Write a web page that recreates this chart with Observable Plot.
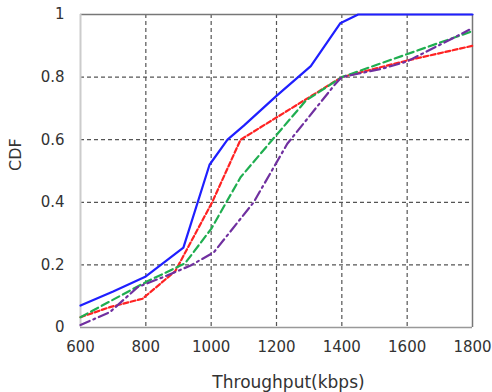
<!DOCTYPE html>
<html>
<head>
<meta charset="utf-8">
<script src="https://cdn.jsdelivr.net/npm/d3@7"></script>
<script src="https://cdn.jsdelivr.net/npm/@observablehq/plot@0.6"></script>
<style>
  html, body { margin: 0; padding: 0; background: #fff; }
  svg { font-family: "DejaVu Sans", sans-serif; }
</style>
</head>
<body>
<div id="chart"></div>
<script>
// Series data (throughput kbps, CDF)
const blueX   = [600, 700, 800, 915, 995, 1050, 1100, 1200, 1305, 1395, 1450, 1800];
const blueY   = [0.07, 0.115, 0.163, 0.255, 0.52, 0.60, 0.645, 0.74, 0.835, 0.972, 1.0, 1.0];
const redX    = [600, 690, 790, 890, 1003, 1090, 1400, 1600, 1800];
const redY    = [0.033, 0.065, 0.092, 0.18, 0.40, 0.60, 0.80, 0.853, 0.90];
const greenX  = [600, 800, 920, 1000, 1090, 1190, 1290, 1400, 1795];
const greenY  = [0.033, 0.145, 0.205, 0.315, 0.48, 0.603, 0.725, 0.80, 0.945];
const purpleX = [600, 690, 775, 865, 937, 1008, 1130, 1233, 1380, 1400, 1520, 1600, 1790];
const purpleY = [0.008, 0.049, 0.129, 0.166, 0.198, 0.24, 0.40, 0.587, 0.778, 0.80, 0.826, 0.85, 0.951];

const xTicks = [600, 800, 1000, 1200, 1400, 1600, 1800];
const yTicks = [0, 0.2, 0.4, 0.6, 0.8, 1];
const xGrid = [800, 1000, 1200, 1400, 1600];
const yGrid = [0.2, 0.4, 0.6, 0.8];

const toRows = (xs, ys) => xs.map((x, i) => ({x, y: ys[i]}));

const series = [
  {rows: toRows(blueX, blueY), stroke: "#1f1fff", dash: null},
  {rows: toRows(redX, redY), stroke: "#ff2222", dash: "5,2.5"},
  {rows: toRows(greenX, greenY), stroke: "#1fae50", dash: "8,4"},
  {rows: toRows(purpleX, purpleY), stroke: "#7030a0", dash: "10,4,2,4"}
];

const chart = Plot.plot({
  width: 492,
  height: 392,
  marginLeft: 80,
  marginRight: 20,
  marginTop: 14,
  marginBottom: 65,
  style: {fontSize: "15px", fontFamily: "DejaVu Sans, sans-serif", color: "#333"},
  x: {domain: [600, 1800], ticks: xTicks, tickSize: 0, tickPadding: 14, label: null, tickFormat: d3.format("d")},
  y: {domain: [0, 1], ticks: yTicks, tickSize: 0, tickPadding: 16, label: null, tickFormat: d3.format("~g")},
  marks: [
    Plot.ruleX(xGrid, {stroke: "#555", strokeDasharray: "4,3", strokeWidth: 1.2}),
    Plot.ruleY(yGrid, {stroke: "#555", strokeDasharray: "4,3", strokeWidth: 1.2}),
    Plot.ruleY([1], {stroke: "#777", strokeWidth: 1.5}),
    Plot.ruleY([0], {stroke: "#999", strokeWidth: 1.5}),
    Plot.ruleX([1800], {stroke: "#777", strokeWidth: 1.5}),
    Plot.ruleX([600], {stroke: "#ccc", strokeWidth: 2}),
    ...series.map(s => Plot.line(s.rows, {x: "x", y: "y", stroke: s.stroke, strokeWidth: 2.2, strokeDasharray: s.dash})),
    Plot.text(["Throughput(kbps)"], {frameAnchor: "bottom", dx: 12, dy: 55, fontSize: 17, fill: "#333", lineAnchor: "middle"}),
    Plot.text(["CDF"], {frameAnchor: "left", dx: -65, rotate: -90, fontSize: 16, fill: "#333", lineAnchor: "middle"})
  ]
});
document.getElementById("chart").appendChild(chart);
</script>
</body>
</html>
